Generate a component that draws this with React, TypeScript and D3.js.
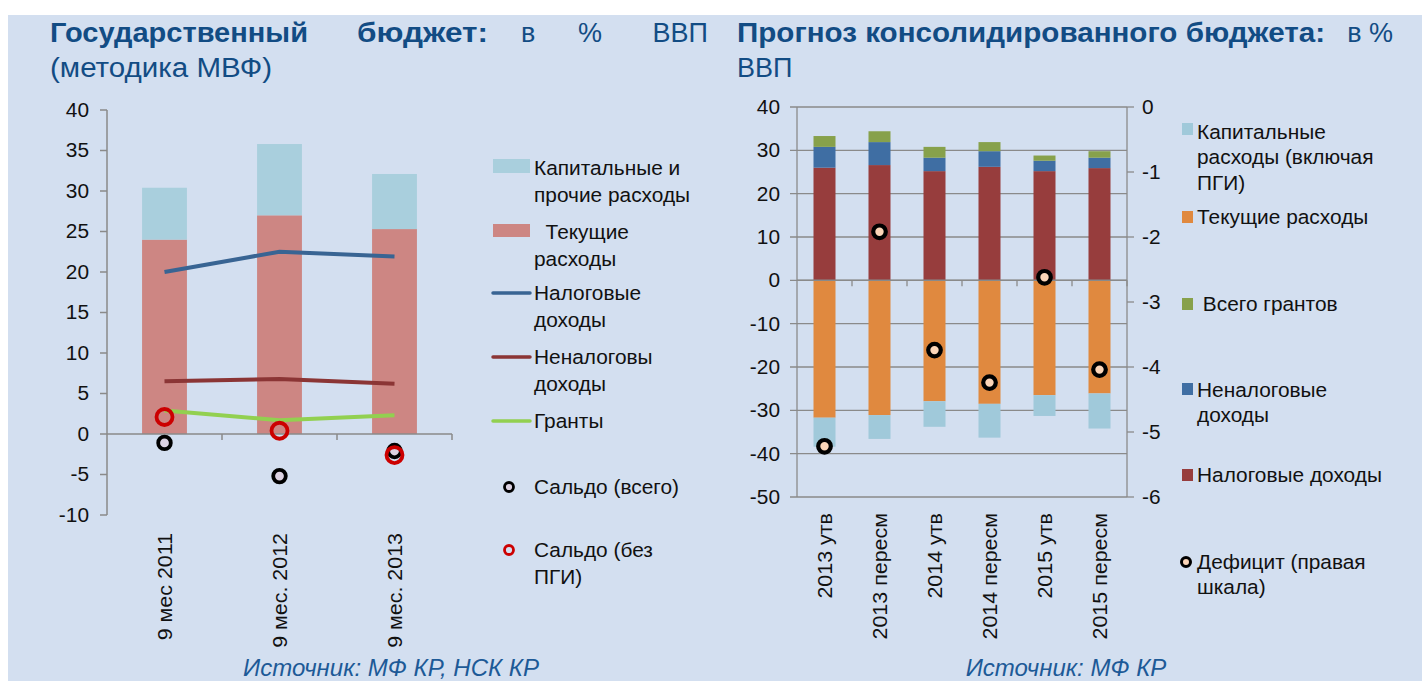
import React from 'react';
import * as d3 from 'd3';

// ---- left chart: государственный бюджет, % ВВП ----
const leftCats = ['9 мес 2011', '9 мес. 2012', '9 мес. 2013'];
const leftCurrent = [24, 27, 25.3];
const leftCapital = [6.4, 8.8, 6.8];
const leftTax = [20, 22.5, 21.9];
const leftNonTax = [6.5, 6.8, 6.2];
const leftGrants = [2.9, 1.7, 2.3];
const leftSaldo = [-1.1, -5.2, -2.1];
const leftSaldoNoPgi = [2.1, 0.4, -2.6];
const leftTicks = [-10, -5, 0, 5, 10, 15, 20, 25, 30, 35, 40];

// ---- right chart: прогноз консолидированного бюджета ----
const rightCats = ['2013 утв', '2013 пересм', '2014 утв', '2014 пересм', '2015 утв', '2015 пересм'];
const rightTax = [26, 26.6, 25.2, 26.2, 25.2, 25.9];
const rightNonTax = [4.8, 5.3, 3.1, 3.6, 2.4, 2.4];
const rightGrants = [2.5, 2.5, 2.5, 2.1, 1.2, 1.5];
const rightCurrent = [-31.7, -31.1, -27.9, -28.5, -26.5, -26.1];
const rightCapital = [-6.7, -5.5, -5.9, -7.8, -4.8, -8.1];
const rightDeficit = [-5.22, -1.92, -3.74, -4.24, -2.62, -4.04];
const rightTicks = [-50, -40, -30, -20, -10, 0, 10, 20, 30, 40];
const rightTicks2 = [-6, -5, -4, -3, -2, -1, 0];

const FONT = '"Liberation Sans", Arial, sans-serif';
const TITLE = '#124c84';
const AXIS = '#8a8a8a';
const TXT = '#111';

const C = {
  capL: '#a9cfdd',
  curL: '#cd8683',
  taxL: '#386493',
  nonTaxL: '#8b3535',
  grantsL: '#92d050',
  capR: '#a0c9da',
  curR: '#e0893f',
  grantsR: '#87a14b',
  nonTaxR: '#3f6ea3',
  taxR: '#973d3d',
};

// Excel-style text looks a bit wider than Liberation, so stretch it slightly
const wide = (x: number, y: number) => `translate(${x},${y}) scale(1.07,1)`;

function LeftChart() {
  const x = d3.scaleBand<string>().domain(leftCats).range([107, 452]).paddingInner(0.61).paddingOuter(0.305);
  const y = d3.scaleLinear().domain([-10, 40]).range([515, 110]);
  const cx = (i: number) => (x(leftCats[i]) as number) + x.bandwidth() / 2;
  const step = x.step();
  const lineGen = (vals: number[]) =>
    d3.line<number>().x((_, i) => cx(i)).y((d) => y(d))(vals) as string;

  const legendText = (lines: string[], x0: number, y0: number) => (
    <text transform={wide(x0, y0)} fontSize={19.5} fill={TXT}>
      {lines.map((l, i) => (
        <tspan key={i} x={0} dy={i === 0 ? 0 : 27} style={{ whiteSpace: 'pre' }}>{l}</tspan>
      ))}
    </text>
  );

  return (
    <g>
      {/* bars */}
      {leftCats.map((c, i) => (
        <g key={c}>
          <rect x={x(c)} width={x.bandwidth()} y={y(leftCurrent[i])} height={y(0) - y(leftCurrent[i])} fill={C.curL} />
          <rect x={x(c)} width={x.bandwidth()} y={y(leftCurrent[i] + leftCapital[i])} height={y(leftCurrent[i]) - y(leftCurrent[i] + leftCapital[i])} fill={C.capL} />
        </g>
      ))}
      {/* y axis */}
      <line x1={107} x2={107} y1={y(40)} y2={y(-10)} stroke={AXIS} strokeWidth={1.5} />
      {leftTicks.map((t) => (
        <g key={t}>
          <line x1={100} x2={107} y1={y(t)} y2={y(t)} stroke={AXIS} strokeWidth={1.5} />
          <text transform={wide(89, y(t))} dy="0.35em" textAnchor="end" fontSize={19.5} fill={TXT}>{t}</text>
        </g>
      ))}
      {/* x axis at zero */}
      <line x1={107} x2={452} y1={y(0)} y2={y(0)} stroke={AXIS} strokeWidth={1.5} />
      {[1, 2, 3].map((k) => (
        <line key={k} x1={107 + k * step} x2={107 + k * step} y1={y(0)} y2={y(0) + 6} stroke={AXIS} strokeWidth={1.5} />
      ))}
      {leftCats.map((c, i) => (
        <text key={c} transform={`translate(${cx(i) + 7},533) rotate(-90) scale(1.1,1)`} textAnchor="end" fontSize={19.5} fill={TXT}>{c}</text>
      ))}
      {/* lines */}
      <path d={lineGen(leftTax)} fill="none" stroke={C.taxL} strokeWidth={4} />
      <path d={lineGen(leftNonTax)} fill="none" stroke={C.nonTaxL} strokeWidth={4} />
      <path d={lineGen(leftGrants)} fill="none" stroke={C.grantsL} strokeWidth={4} />
      {/* saldo markers */}
      {leftSaldo.map((v, i) => (
        <circle key={'s' + i} cx={cx(i)} cy={y(v)} r={6.3} fill="#dcd2e2" stroke="#000" strokeWidth={3.8} />
      ))}
      {leftSaldoNoPgi.map((v, i) => (
        <circle key={'p' + i} cx={cx(i)} cy={y(v)} r={8} fill="none" stroke="#cc0000" strokeWidth={3.8} />
      ))}
      {/* legend */}
      <rect x={493} y={159} width={37} height={14} fill={C.capL} />
      {legendText(['Капитальные и', 'прочие расходы'], 534, 175)}
      <rect x={493} y={224} width={37} height={13} fill={C.curL} />
      {legendText(['  Текущие', 'расходы'], 534, 239)}
      <line x1={493} x2={530} y1={293} y2={293} stroke={C.taxL} strokeWidth={3.5} strokeLinecap="round" />
      {legendText(['Налоговые', 'доходы'], 534, 300)}
      <line x1={493} x2={530} y1={357} y2={357} stroke={C.nonTaxL} strokeWidth={3.5} strokeLinecap="round" />
      {legendText(['Неналоговы', 'доходы'], 534, 364)}
      <line x1={493} x2={530} y1={421} y2={421} stroke={C.grantsL} strokeWidth={3.5} strokeLinecap="round" />
      {legendText(['Гранты'], 534, 428)}
      <circle cx={509} cy={487} r={4.5} fill="#dcd2e2" stroke="#000" strokeWidth={2.8} />
      {legendText(['Сальдо (всего)'], 534, 494)}
      <circle cx={509} cy={550} r={4.5} fill="none" stroke="#cc0000" strokeWidth={2.8} />
      {legendText(['Сальдо (без', 'ПГИ)'], 534, 557)}
    </g>
  );
}

function RightChart() {
  const x = d3.scaleBand<string>().domain(rightCats).range([797, 1127]).paddingInner(0.6).paddingOuter(0.3);
  const y = d3.scaleLinear().domain([-50, 40]).range([497, 107]);
  const y2 = d3.scaleLinear().domain([-6, 0]).range([497, 107]);
  const cx = (i: number) => (x(rightCats[i]) as number) + x.bandwidth() / 2;
  const step = x.step();

  const legendText = (lines: string[], x0: number, y0: number) => (
    <text transform={wide(x0, y0)} fontSize={19.5} fill={TXT}>
      {lines.map((l, i) => (
        <tspan key={i} x={0} dy={i === 0 ? 0 : 25.5} style={{ whiteSpace: 'pre' }}>{l}</tspan>
      ))}
    </text>
  );

  const seg = (c: string, a: number, b: number, fill: string, key: string) => (
    <rect key={key} x={x(c)} width={x.bandwidth()} y={y(Math.max(a, b))} height={Math.abs(y(a) - y(b))} fill={fill} />
  );

  return (
    <g>
      {/* gridlines */}
      {rightTicks.map((t) => (
        <line key={t} x1={790} x2={1127} y1={y(t)} y2={y(t)} stroke={AXIS} strokeWidth={1.3} />
      ))}
      {/* stacked bars */}
      {rightCats.map((c, i) => {
        const t = rightTax[i];
        const n = t + rightNonTax[i];
        const g = n + rightGrants[i];
        const cu = rightCurrent[i];
        const ca = cu + rightCapital[i];
        return (
          <g key={c}>
            {seg(c, 0, t, C.taxR, 'tax')}
            {seg(c, t, n, C.nonTaxR, 'non')}
            {seg(c, n, g, C.grantsR, 'gr')}
            {seg(c, 0, cu, C.curR, 'cur')}
            {seg(c, cu, ca, C.capR, 'cap')}
          </g>
        );
      })}
      {/* axes */}
      <line x1={797} x2={797} y1={107} y2={497} stroke={AXIS} strokeWidth={1.3} />
      <line x1={1127} x2={1127} y1={107} y2={497} stroke={AXIS} strokeWidth={1.3} />
      <line x1={797} x2={1127} y1={y(0)} y2={y(0)} stroke={AXIS} strokeWidth={1.5} />
      {d3.range(1, 7).map((k) => (
        <line key={k} x1={797 + k * step} x2={797 + k * step} y1={y(0)} y2={y(0) + 6} stroke={AXIS} strokeWidth={1.3} />
      ))}
      {rightTicks.map((t) => (
        <text key={'l' + t} transform={wide(780, y(t))} dy="0.35em" textAnchor="end" fontSize={19.5} fill={TXT}>{t}</text>
      ))}
      {rightTicks2.map((t) => (
        <g key={'r' + t}>
          <line x1={1127} x2={1134} y1={y2(t)} y2={y2(t)} stroke={AXIS} strokeWidth={1.3} />
          <text transform={wide(1142, y2(t))} dy="0.35em" fontSize={19.5} fill={TXT}>{t}</text>
        </g>
      ))}
      {rightCats.map((c, i) => (
        <text key={c} transform={`translate(${cx(i) + 7},513) rotate(-90) scale(1.1,1)`} textAnchor="end" fontSize={19.5} fill={TXT}>{c}</text>
      ))}
      {/* deficit markers on right scale */}
      {rightDeficit.map((v, i) => (
        <circle key={i} cx={cx(i)} cy={y2(v)} r={6.3} fill="#fbd5b8" stroke="#000" strokeWidth={4.2} />
      ))}
      {/* legend */}
      <rect x={1182} y={123} width={11} height={12} fill={C.capR} />
      {legendText(['Капитальные', 'расходы (включая', 'ПГИ)'], 1197, 139)}
      <rect x={1182} y={211} width={11} height={12} fill={C.curR} />
      {legendText(['Текущие расходы'], 1197, 224)}
      <rect x={1182} y={298} width={11} height={12} fill={C.grantsR} />
      {legendText([' Всего грантов'], 1197, 311)}
      <rect x={1182} y={383} width={11} height={12} fill={C.nonTaxR} />
      {legendText(['Неналоговые', 'доходы'], 1197, 397)}
      <rect x={1182} y={469} width={11} height={12} fill={C.taxR} />
      {legendText(['Налоговые доходы'], 1197, 482)}
      <circle cx={1186} cy={562} r={4.5} fill="#fbd5b8" stroke="#000" strokeWidth={3} />
      {legendText(['Дефицит (правая', 'шкала)'], 1197, 569)}
    </g>
  );
}

export default function App() {
  return (
    <svg width={1422} height={681} style={{ position: 'absolute', left: 0, top: 0 }} fontFamily={FONT}>
      <rect x={0} y={0} width={1422} height={681} fill="#fff" />
      <rect x={8} y={15} width={1414} height={666} fill="#d3dff0" />
      {/* titles */}
      <g fill={TITLE} fontSize={27}>
        <text x={50} y={42} fontWeight="bold" textLength={258} lengthAdjust="spacingAndGlyphs">Государственный</text>
        <text x={357} y={42} fontWeight="bold" textLength={131} lengthAdjust="spacingAndGlyphs">бюджет:</text>
        <text x={521} y={42}>в</text>
        <text x={578} y={42}>%</text>
        <text x={708} y={42} textAnchor="end">ВВП</text>
        <text x={50} y={77} textLength={222} lengthAdjust="spacingAndGlyphs">(методика МВФ)</text>
        <text x={737} y={42} fontWeight="bold" textLength={588} lengthAdjust="spacingAndGlyphs">Прогноз консолидированного бюджета:</text>
        <text x={1393} y={42} textAnchor="end">в %</text>
        <text x={737} y={77}>ВВП</text>
      </g>
      <LeftChart />
      <RightChart />
      <g fill="#1d5a97" fontSize={24} fontStyle="italic" textAnchor="middle">
        <text x={391} y={676}>Источник: МФ КР, НСК КР</text>
        <text x={1066} y={676}>Источник: МФ КР</text>
      </g>
    </svg>
  );
}
